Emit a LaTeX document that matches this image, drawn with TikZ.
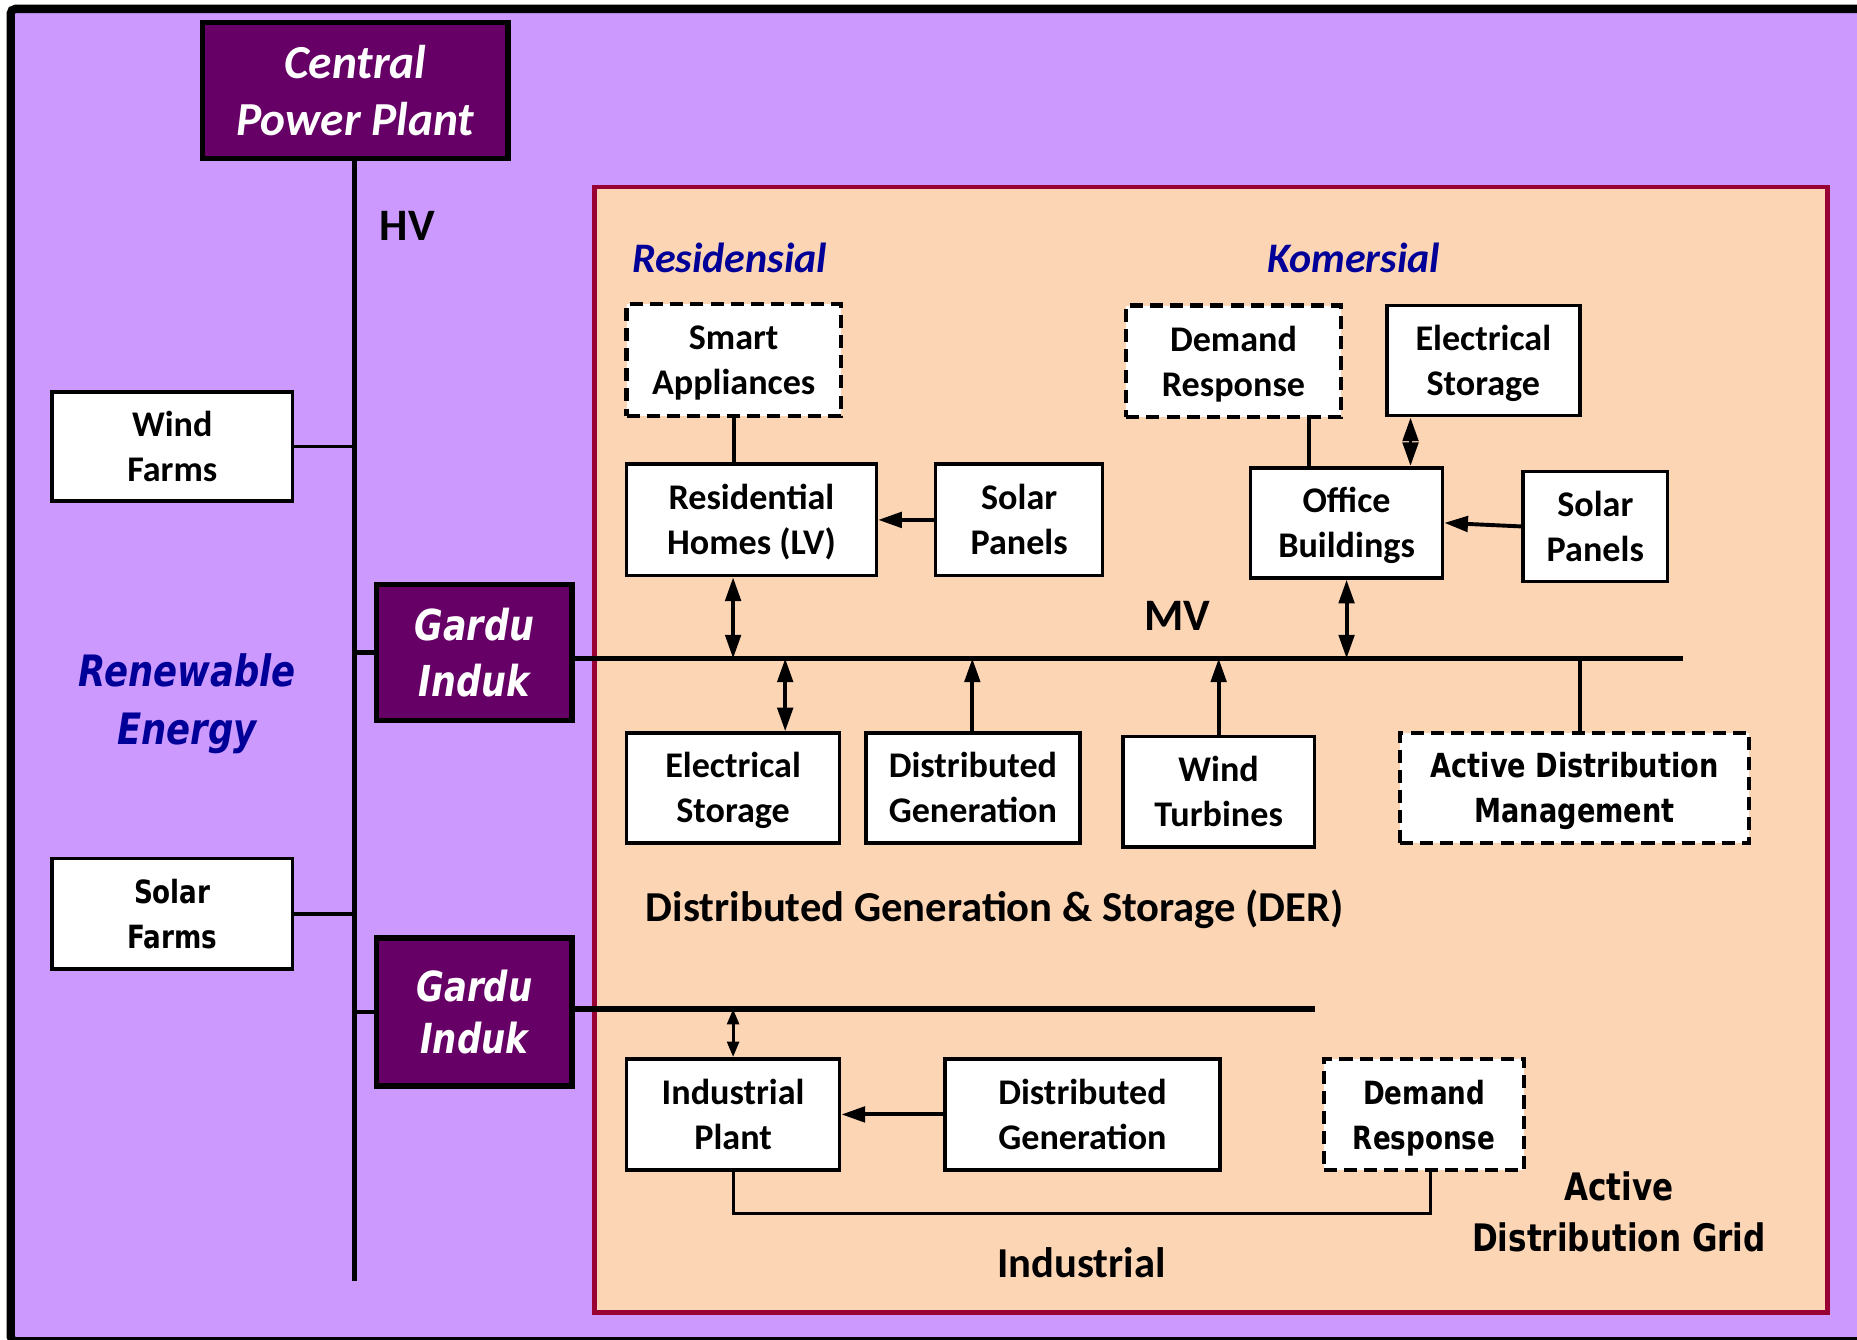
\documentclass[tikz,border=0pt]{standalone}
\usepackage{fontspec}
\setmainfont{Carlito}
\newfontfamily\vfont[FakeStretch=0.82]{DejaVu Sans}
\usetikzlibrary{arrows.meta}

\definecolor{lav}{HTML}{CC99FF}
\definecolor{plum}{HTML}{660066}
\definecolor{peach}{HTML}{FCD5B5}
\definecolor{crim}{HTML}{990033}
\definecolor{navy}{HTML}{000099}

\newcommand\fsz[2]{\fontsize{#1}{#2}\selectfont}

\begin{document}
\begin{tikzpicture}[x=1pt,y=-1pt,
  % two-line box texts: struts fix the ascent of the block and the depth of its last line
  wbox/.style={draw, fill=white, line width=3pt, align=center, inner sep=0pt,
               font=\fsz{30.5}{38}\bfseries,
               execute at begin node={\rule{0pt}{67pt}},
               execute at end node={\rule[-8.2pt]{0pt}{0pt}}},
  vbox/.style={wbox, font=\vfont\fsz{27}{38}\bfseries,
               execute at begin node={\rule{0pt}{65pt}},
               execute at end node={\rule[-5.7pt]{0pt}{0pt}}},
  dbox/.style={dash pattern=on 11pt off 6pt, line width=3.5pt},
  pbox/.style={draw, fill=plum, line width=4.5pt, align=center, inner sep=0pt, text=white},
  wire/.style={line width=3.3pt},
  bus/.style={line width=4.3pt},
  arr/.style={wire, -{Stealth[length=20pt,width=13pt,inset=0pt]}},
  dbl/.style={wire, {Stealth[length=20pt,width=13pt,inset=0pt]}-{Stealth[length=20pt,width=13pt,inset=0pt]}},
  sdbl/.style={line width=2.6pt, {Stealth[length=13pt,width=10pt,inset=0pt]}-{Stealth[length=13pt,width=10pt,inset=0pt]}},
  lbl/.style={font=\fsz{36}{43}\bfseries, align=center, inner sep=0pt},
  ttl/.style={font=\fsz{35.5}{43}\bfseries\itshape, text=navy, align=center, inner sep=0pt},
]
\useasboundingbox (0,0) rectangle (1568,1131);
\clip (0,0) rectangle (1568,1131);

% background and outer frame
\fill[white] (0,0) rectangle (1568,1131);
\draw[line width=7pt, rounded corners=4pt, fill=lav] (9,7.5) rectangle (1590,1132.5);

% active distribution grid area
\draw[draw=crim, fill=peach, line width=4pt] (502,158) rectangle (1543,1108);

% transmission side
\node[pbox, minimum width=258pt, minimum height=115pt, font=\fsz{40}{48}\bfseries\itshape]
  (cpp) at (300,76.5) {Central\\Power Plant};
\coordinate (hvEnd) at (299,1082);
\draw[bus] (cpp.south -| hvEnd) -- (hvEnd);
\node[lbl, font=\fsz{38}{43}\bfseries] (hv) at (344,191) {HV};

\node[wbox, minimum width=203pt, minimum height=92pt] (wf) at (145.5,377) {Wind\\Farms};
\node[vbox, minimum width=203pt, minimum height=93pt] (sf) at (145.5,771.5) {Solar\\Farms};
\draw[wire] (wf.east) -- (wf.east -| hvEnd);
\draw[wire] (sf.east) -- (sf.east -| hvEnd);

\node[font=\vfont\fsz{36.5}{49}\bfseries\itshape, text=navy, align=center, inner sep=0pt]
  (re) at (158,594.5) {Renewable\\Energy};

\node[pbox, minimum width=165pt, minimum height=115pt, font=\vfont\fsz{36}{48}\bfseries\itshape]
  (gi1) at (400.5,551) {Gardu\\Induk};
\node[pbox, minimum width=165pt, minimum height=125pt, font=\vfont\fsz{35}{44}\bfseries\itshape]
  (gi2) at (400.5,854.5) {Gardu\\Induk};
\draw[wire, line width=4pt] (gi1.west) -- (gi1.west -| hvEnd);
\draw[wire, line width=4pt] (gi2.west) -- (gi2.west -| hvEnd);

% medium-voltage bus and the second feeder
\coordinate (mvEnd) at (1421,556);
\coordinate (lvEnd) at (1110,852);
\draw[bus] (gi1.east |- mvEnd) -- (mvEnd);
\draw[bus] (gi2.east |- lvEnd) -- (lvEnd);
\node[lbl, font=\fsz{38}{43}\bfseries] (mv) at (994,520) {MV};

% residential
\node[ttl] (res) at (616,218) {Residensial};
\node[wbox, dbox, minimum width=181pt, minimum height=94pt] (sa) at (619.5,304) {Smart\\Appliances};
\node[wbox, minimum width=211pt, minimum height=94pt] (rh) at (634.5,439) {Residential\\Homes (LV)};
\node[wbox, minimum width=141pt, minimum height=94pt] (spR) at (860.5,439) {Solar\\Panels};
\draw[wire] (sa.south) -- (sa.south |- rh.north);
\draw[arr] (spR.west) -- (rh.east);
\coordinate (bRH) at (619,556);
\draw[dbl] (bRH |- rh.south) -- (bRH);

% commercial
\node[ttl] (kom) at (1143,218) {Komersial};
\node[wbox, dbox, minimum width=181pt, minimum height=94pt] (drK) at (1041.5,305) {Demand\\Response};
\node[wbox, minimum width=163pt, minimum height=93pt] (esK) at (1252.5,304.5) {Electrical\\Storage};
\node[wbox, minimum width=162pt, minimum height=93pt] (ob) at (1137,441.5) {Office\\Buildings};
\node[wbox, minimum width=122pt, minimum height=93pt] (spK) at (1347,444.5) {Solar\\Panels};
\coordinate (xDR) at (1105,0);
\coordinate (xES) at (1191,0);
\draw[wire] (xDR |- drK.south) -- (xDR |- ob.north);
\draw[dbl] (xES |- esK.south) -- (xES |- ob.north);
\draw[arr] (spK.west) -- (ob.east);
\coordinate (bOB) at (1137,556);
\draw[dbl] (ob.south) -- (bOB);

% distributed generation and storage
\node[wbox, minimum width=180pt, minimum height=93pt] (esD) at (619,665.5) {Electrical\\Storage};
\node[wbox, minimum width=181pt, minimum height=93pt] (dgD) at (821.5,665.5) {Distributed\\Generation};
\node[wbox, minimum width=162pt, minimum height=93pt] (wt) at (1029,668.5) {Wind\\Turbines};
\node[vbox, dbox, minimum width=295pt, minimum height=93pt, font=\vfont\fsz{28}{38}\bfseries]
  (adm) at (1329.5,665.5) {Active Distribution\\Management};
\coordinate (bES) at (663,556);
\coordinate (bDG) at (821,556);
\coordinate (bWT) at (1029,556);
\coordinate (bAD) at (1334,556);
\draw[dbl] (bES |- esD.north) -- (bES);
\draw[arr] (dgD.north -| bDG) -- (bDG);
\draw[arr] (wt.north -| bWT) -- (bWT);
\draw[wire] (bAD) -- (bAD |- adm.north);
\node[lbl] (der) at (840,768) {Distributed Generation \& Storage (DER)};

% industrial
\node[wbox, minimum width=180pt, minimum height=94pt] (ip) at (619,941) {Industrial\\Plant};
\node[wbox, minimum width=232pt, minimum height=94pt] (dgI) at (914,941) {Distributed\\Generation};
\node[vbox, dbox, minimum width=169pt, minimum height=94pt] (drI) at (1202.5,941) {Demand\\Response};
\coordinate (bIP) at (619,852);
\draw[sdbl] (bIP) -- (bIP |- ip.north);
\draw[arr] (dgI.west) -- (ip.east);
\coordinate (loopR) at (1208,1025);
\draw[wire, line width=2.6pt] (ip.south) -- (ip.south |- loopR) -- (loopR) -- (loopR |- drI.south);
\node[lbl] (ind) at (913,1066) {Industrial};

\node[font=\vfont\fsz{32}{43}\bfseries, align=center, inner sep=0pt] (adg) at (1367,1023.5) {Active\\Distribution Grid};
\end{tikzpicture}
\end{document}
